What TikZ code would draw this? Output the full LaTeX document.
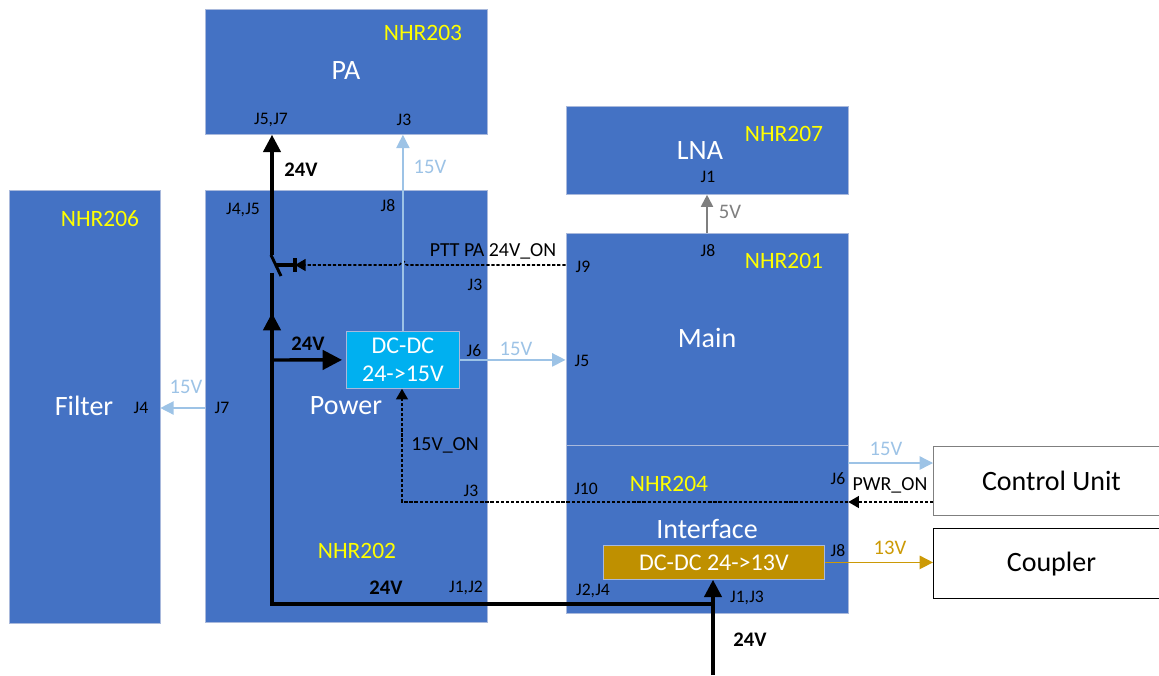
\documentclass[tikz,border=0pt]{standalone}
\usepackage{fontspec}
\setmainfont{Carlito}
\usepackage{tikz}
\usetikzlibrary{arrows.meta,positioning,calc}
\definecolor{blockblue}{HTML}{4472C4}
\definecolor{blockedge}{HTML}{A9B9DC}
\definecolor{convblue}{HTML}{00B0F0}
\definecolor{convgold}{HTML}{BF9000}
\definecolor{lineblue}{HTML}{9DC3E6}
\definecolor{linegray}{HTML}{7F7F7F}
\definecolor{linegold}{HTML}{CC9A06}
\definecolor{nhryellow}{HTML}{FFFF00}
\tikzset{
	block/.style={draw=blockedge, line width=0.6pt, fill=blockblue, anchor=north west, inner sep=0pt},
	conv/.style={draw=blockedge, line width=0.6pt, text=white, anchor=north west, inner sep=0pt, align=center, font=\fontsize{18}{21}\selectfont},
	ext/.style={draw=black, line width=0.7pt, fill=white, anchor=north west, inner sep=0pt, font=\fontsize{21}{24}\selectfont},
	title/.style={text=white, font=\fontsize{21}{24}\selectfont},
	nhr/.style={text=nhryellow, font=\fontsize{17.6}{20}\selectfont},
	pin/.style={text=black, font=\fontsize{13.2}{15}\selectfont},
	volt/.style={font=\fontsize{15.5}{18}\selectfont},
	bold/.style={text=black, font=\fontsize{15.5}{18}\selectfont\bfseries},
	label/.style={text=black, font=\fontsize{14.9}{18}\selectfont},
	main24/.style={line width=2.6pt, black},
	tip24/.style={-{Triangle[length=13pt,width=13pt]}},
	tipbig/.style={-{Triangle[length=14.5pt,width=14.5pt]}},
	feedblue/.style={line width=1pt, lineblue, -{Triangle[length=10pt,width=10pt]}},
	feedgray/.style={line width=1.4pt, linegray, -{Triangle[length=9pt,width=9pt]}},
	feedgold/.style={line width=1.2pt, linegold, -{Triangle[length=10pt,width=10pt]}},
	ctrl/.style={line width=1.15pt, dash pattern=on 2.4pt off 1.4pt, black, -{Triangle[length=8pt,width=9pt]}}
}
\begin{document}
\begin{tikzpicture}[x=0.75pt,y=-0.75pt]
	\useasboundingbox (0,0) rectangle (1159,675);
	% Boards
	\node[block, minimum width=211.5pt, minimum height=93.75pt] (pa) at (204.5,9) {};
	\node[block, minimum width=211.5pt, minimum height=66pt] (lna) at (565.5,106) {};
	\node[block, minimum width=113.25pt, minimum height=325pt] (filter) at (8.5,190) {};
	\node[block, minimum width=211.5pt, minimum height=324pt] (power) at (204.5,190) {};
	\node[block, minimum width=211.5pt, minimum height=159pt] (main) at (565.5,233) {};
	\node[block, minimum width=211.5pt, minimum height=126pt] (iface) at (565.5,445) {};
	% Outside units
	\node[ext, draw=linegray, minimum width=177pt, minimum height=51.75pt] (ctrlunit) at (933,446) {Control Unit};
	\node[ext, text depth=2pt, minimum width=177pt, minimum height=52.5pt] (coupler) at (933,528) {Coupler};
	% Converters
	\node[conv, fill=convblue, minimum width=84.75pt, minimum height=42.75pt] (dcblue) at (346,331) {DC-DC\\24->15V};
	\node[conv, fill=convgold, minimum width=165.75pt, minimum height=25.5pt] (dcgold) at (603,545) {DC-DC 24->13V};

	% Board names
	\node[title] (tpa) at (346,71) {PA};
	\node[title] (tlna) at (700,151) {LNA};
	\node[title] (tfilter) at (84,406) {Filter};
	\node[title] (tpower) at (346,406) {Power};
	\node[title] (tmain) at (707,338) {Main};
	\node[title] (tiface) at (707,529) {Interface};
	\node[nhr] (n203) at (423,33) {NHR203};
	\node[nhr] (n207) at (784,134) {NHR207};
	\node[nhr] (n206) at (100,219) {NHR206};
	\node[nhr] (n201) at (784,261) {NHR201};
	\node[nhr] (n204) at (669,484) {NHR204};
	\node[nhr] (n202) at (357,551) {NHR202};

	% Connector names
	\node[pin] (j57) at (271,120) {J5,J7};
	\node[pin] (j3pa) at (404,120) {J3};
	\node[pin] (j45) at (243,210) {J4,J5};
	\node[pin] (j8pw) at (388,206) {J8};
	\node[pin] (j3pw) at (475,285) {J3};
	\node[pin] (j6pw) at (474,351) {J6};
	\node[pin] (j7pw) at (222,408) {J7};
	\node[pin] (j4fl) at (141,408) {J4};
	\node[pin] (j3low) at (471,491) {J3};
	\node[pin] (j12) at (466,588) {J1,J2};
	\node[pin] (j1lna) at (708,177) {J1};
	\node[pin] (j8mn) at (708,251) {J8};
	\node[pin] (j9) at (583,267) {J9};
	\node[pin] (j5mn) at (582,361) {J5};
	\node[pin] (j10) at (586,489) {J10};
	\node[pin] (j6if) at (838,479) {J6};
	\node[pin] (j8if) at (838,551) {J8};
	\node[pin] (j24) at (593,591) {J2,J4};
	\node[pin] (j13) at (747,598) {J1,J3};

	% 24V rail
	\coordinate (feed) at (713,675);
	\coordinate (tee) at (713,604);
	\coordinate (corner) at (272,604);
	\coordinate (swlow) at (272,275);
	\coordinate (swtop) at (272,255);
	\coordinate (swend) at (281,276);
	\draw[main24, tip24] (feed) -- (dcgold.south -| feed);
	\draw[main24, line cap=rect] (tee) -- (corner) -- (swlow);
	\draw[main24, tip24] (corner) -- (272,313);
	\draw[main24, tip24] (swtop) -- (pa.south -| swtop);
	\draw[line width=2.2pt, black] (swtop) ++(-1,0) -- (swend);
	\draw[main24, tipbig, shorten >=3pt] (272,360) -- (dcblue.west);

	% Switch drive
	\coordinate (swmid) at (276,265);
	\coordinate (swbar) at (295,265);
	\draw[line width=2.6pt, black] (swmid) -- (swbar);
	\draw[line width=3.2pt, black] (295,258) -- (295,272);
	\draw[ctrl] (main.west |- swbar) -- (407,265) .. controls (405,265) and (405,261) .. (403,261) .. controls (401,261) and (401,265) .. (399,265) -- (swbar);

	% Supplies
	\draw[feedblue] (dcblue.north) -- (pa.south -| dcblue.north);
	\draw[feedblue] (dcblue.east) -- (main.west |- dcblue.east);
	\draw[feedblue] (power.west |- j7pw) -- (filter.east |- j7pw);
	\draw[feedblue] (main.east |- 0,463) -- (ctrlunit.west |- 0,463);
	\draw[feedgray] (main.north -| 707,0) -- (lna.south -| 707,0);
	\draw[feedgold] (dcgold.east) -- (coupler.west |- dcgold.east);

	% Enable lines
	\draw[ctrl] (ctrlunit.west |- 0,502) -- (main.east |- 0,502);
	\coordinate (onturn) at (402,502);
	\draw[ctrl] (main.east |- onturn) -- (onturn) -- (dcblue.south -| onturn);

	% Line labels
	\node[bold] (v24a) at (301,170) {24V};
	\node[bold] (v24b) at (308,344) {24V};
	\node[bold] (v24c) at (386,588) {24V};
	\node[bold] (v24d) at (750,640) {24V};
	\node[volt, text=lineblue] (v15a) at (430,167) {15V};
	\node[volt, text=lineblue] (v15b) at (516,349) {15V};
	\node[volt, text=lineblue] (v15c) at (186,387) {15V};
	\node[volt, text=lineblue] (v15d) at (886,449) {15V};
	\node[volt, text=linegray] (v5) at (730,212) {5V};
	\node[volt, text=linegold] (v13) at (890,548) {13V};
	\node[label] (ptt) at (493,251) {PTT PA 24V\_ON};
	\node[label] (v15on) at (445,445) {15V\_ON};
	\node[label] (pwron) at (890,485) {PWR\_ON};
\end{tikzpicture}
\end{document}
